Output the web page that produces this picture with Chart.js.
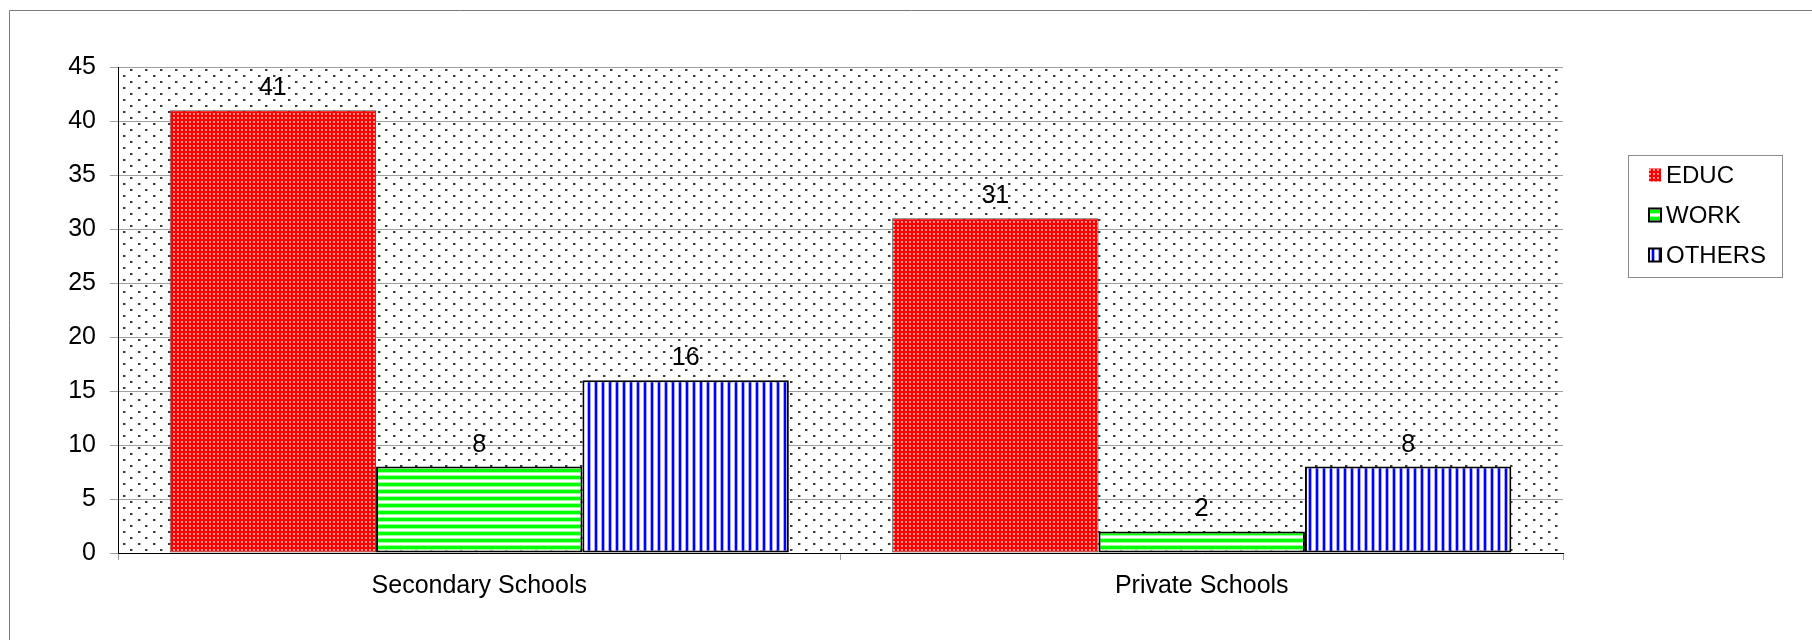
<!DOCTYPE html>
<html><head><meta charset="utf-8">
<script src="https://cdn.jsdelivr.net/npm/chart.js@4.4.1/dist/chart.umd.min.js"></script>
<style>html,body{margin:0;padding:0;background:#fff;} canvas{display:block;}</style>
</head><body>
<canvas id="c" width="1812" height="640"></canvas>
<script>
// ---- data ----
const categories = ['Secondary Schools', 'Private Schools'];
const seriesNames = ['EDUC', 'WORK', 'OTHERS'];
const educValues = [41, 31];
const workValues = [8, 2];
const othersValues = [16, 8];
const yMin = 0, yMax = 45, yStep = 5;

const FONT = '"Liberation Sans", Arial, sans-serif';
const canvas = document.getElementById('c');
const mainCtx = canvas.getContext('2d');

function makePattern(w, h, draw) {
  const t = document.createElement('canvas');
  t.width = w; t.height = h;
  draw(t.getContext('2d'), w, h);
  return mainCtx.createPattern(t, 'repeat');
}

const redPattern = makePattern(4, 4, (g) => {
  g.fillStyle = '#ff0000'; g.fillRect(0, 0, 4, 4);
  g.fillStyle = 'rgba(255,255,255,0.55)'; g.fillRect(1, 1, 2, 2);
  g.fillStyle = 'rgba(255,255,255,0.35)'; g.fillRect(1, 1, 1, 1);
});
const greenPattern = makePattern(8, 7, (g) => {
  g.fillStyle = '#ffffff'; g.fillRect(0, 0, 8, 7);
  g.fillStyle = '#00ff00'; g.fillRect(0, 0, 8, 3);
  g.fillStyle = '#9cff9c'; g.fillRect(0, 3, 8, 1); g.fillRect(0, 6, 8, 1);
});
const bluePattern = makePattern(7, 8, (g) => {
  g.fillStyle = '#ffffff'; g.fillRect(0, 0, 7, 8);
  g.fillStyle = '#0000ff'; g.fillRect(0, 0, 2, 8);
  g.fillStyle = '#a8a8ff'; g.fillRect(2, 0, 1, 8); g.fillRect(6, 0, 1, 8);
});
const dotPattern = makePattern(15, 12, (g) => {
  g.fillStyle = '#ffffff'; g.fillRect(0, 0, 15, 12);
  g.fillStyle = '#3a3a3a'; g.fillRect(3, 3, 2, 2); g.fillRect(10, 9, 2, 2);
  g.fillStyle = '#a8a8a8'; g.fillRect(5, 3, 1, 2); g.fillRect(12, 9, 1, 2);
});

const seriesFills = [redPattern, greenPattern, bluePattern];
const seriesBorders = ['#505050', '#000000', '#000000'];
const seriesBorderWidths = [1, 2, 2];

const backgroundPlugin = {
  id: 'bgFrame',
  beforeDraw(chart) {
    const ctx = chart.ctx, a = chart.chartArea;
    ctx.save();
    ctx.fillStyle = '#ffffff';
    ctx.fillRect(0, 0, chart.width, chart.height);
    ctx.strokeStyle = '#7a7a7a'; ctx.lineWidth = 1;
    ctx.beginPath();
    ctx.moveTo(9.5, chart.height + 5); ctx.lineTo(9.5, 10.5); ctx.lineTo(chart.width + 5, 10.5);
    ctx.stroke();
    ctx.fillStyle = dotPattern;
    ctx.fillRect(a.left, a.top, a.right - a.left, a.bottom - a.top);
    ctx.restore();
  }
};

const valueLabels = {
  id: 'valueLabels',
  afterDatasetsDraw(chart) {
    const ctx = chart.ctx;
    ctx.save();
    ctx.font = '25px ' + FONT;
    ctx.fillStyle = '#000'; ctx.textAlign = 'center'; ctx.textBaseline = 'alphabetic';
    chart.data.datasets.forEach((ds, i) => {
      chart.getDatasetMeta(i).data.forEach((el, j) => {
        ctx.fillText(String(ds.data[j]), el.x, el.y - 15);
      });
    });
    ctx.restore();
  }
};

const legendPlugin = {
  id: 'boxLegend',
  afterDraw(chart) {
    const ctx = chart.ctx;
    ctx.save();
    ctx.strokeStyle = '#8c8c8c'; ctx.lineWidth = 1;
    ctx.strokeRect(1628.5, 155.5, 154, 122);
    ctx.font = '24px ' + FONT;
    ctx.textAlign = 'left'; ctx.textBaseline = 'middle';
    chart.data.datasets.forEach((ds, i) => {
      const cy = 175 + i * 40;
      ctx.fillStyle = ds.backgroundColor;
      ctx.fillRect(1649, cy - 6.5, 12, 13);
      ctx.strokeStyle = ds.borderColor; ctx.lineWidth = ds.borderWidth;
      if (ds.borderWidth > 1) ctx.strokeRect(1649, cy - 6.5, 12, 13);
      ctx.fillStyle = '#000';
      ctx.fillText(ds.label, 1666, cy + 1);
    });
    ctx.restore();
  }
};

const datasets = [educValues, workValues, othersValues].map((vals, i) => ({
  label: seriesNames[i],
  data: vals,
  backgroundColor: seriesFills[i],
  borderColor: seriesBorders[i],
  borderWidth: seriesBorderWidths[i],
  borderSkipped: false,
  categoryPercentage: 0.857,
  barPercentage: 1.0
}));

new Chart(canvas, {
  type: 'bar',
  data: { labels: categories, datasets },
  plugins: [backgroundPlugin, valueLabels, legendPlugin],
  options: {
    responsive: false,
    animation: false,
    events: [],
    layout: { padding: { left: 0, top: 67, right: 249, bottom: 0 } },
    plugins: { legend: { display: false }, tooltip: { enabled: false }, title: { display: false } },
    scales: {
      x: {
        offset: true,
        grid: { display: true, drawOnChartArea: false, drawTicks: true, tickLength: 7, color: '#a0a0a0', offset: true },
        border: { display: true, color: '#000000', width: 1 },
        ticks: { color: '#000', font: { family: FONT, size: 25 }, padding: 11, maxRotation: 0 },
        afterFit(s) { s.height = 87; }
      },
      y: {
        min: yMin, max: yMax,
        grid: { color: '#a0a0a0', tickLength: 8, drawTicks: true },
        border: { display: true, color: '#000000', width: 1 },
        ticks: { stepSize: yStep, color: '#000', font: { family: FONT, size: 25 }, padding: 14 },
        afterFit(s) { s.width = 118; }
      }
    }
  }
});
</script>
</body></html>
